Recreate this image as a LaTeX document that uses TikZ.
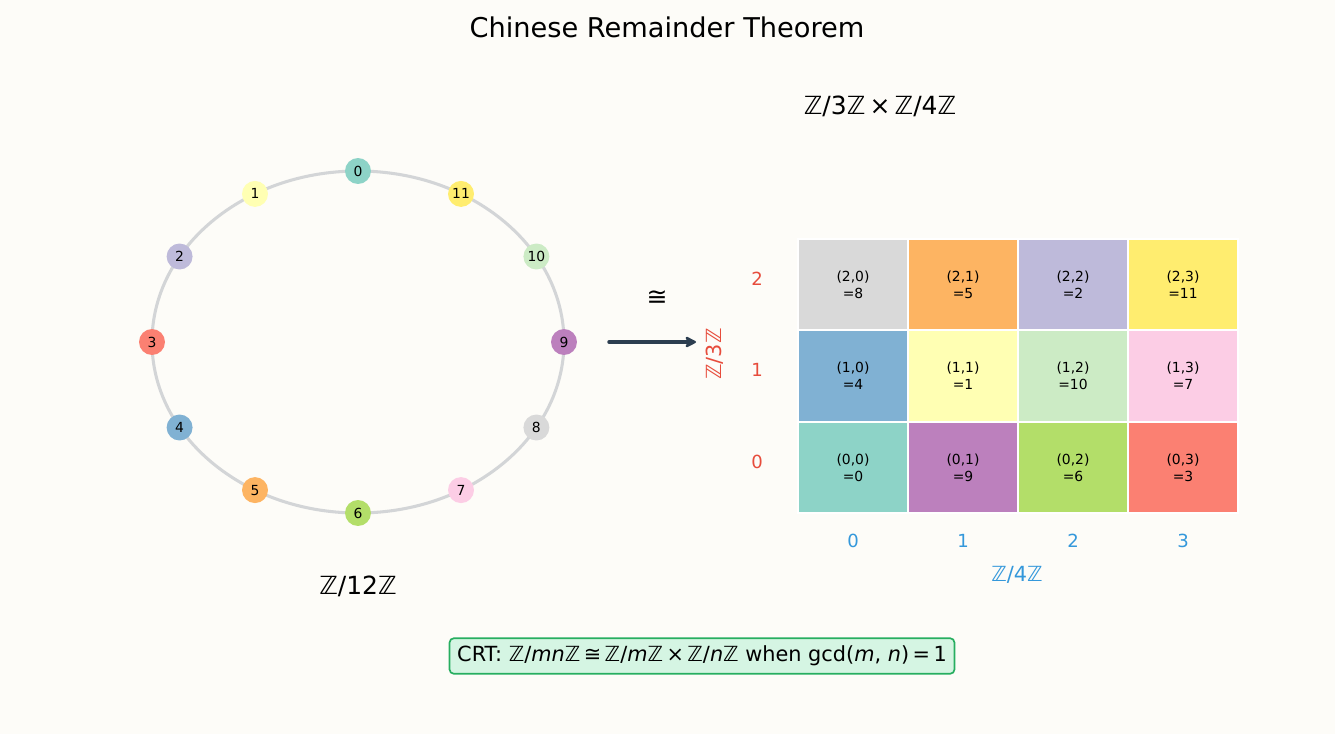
\documentclass[tikz,border=0pt]{standalone}
\usepackage{fontspec}
\setmainfont{DejaVu Sans}
\usetikzlibrary{arrows.meta}
\definecolor{bg}{HTML}{FDFCF8}
\definecolor{ring}{HTML}{D3D5D7}
\definecolor{arrowc}{HTML}{2C3E50}
\definecolor{rowc}{HTML}{E74C3C}
\definecolor{colc}{HTML}{3498DB}
\definecolor{boxfill}{HTML}{D5F5E3}
\definecolor{boxdraw}{HTML}{27AE60}
\definecolor{c0}{HTML}{8DD3C7}
\definecolor{c1}{HTML}{FFFFB3}
\definecolor{c2}{HTML}{BEBADA}
\definecolor{c3}{HTML}{FB8072}
\definecolor{c4}{HTML}{80B1D3}
\definecolor{c5}{HTML}{FDB462}
\definecolor{c6}{HTML}{B3DE69}
\definecolor{c7}{HTML}{FCCDE5}
\definecolor{c8}{HTML}{D9D9D9}
\definecolor{c9}{HTML}{BC80BD}
\definecolor{c10}{HTML}{CCEBC5}
\definecolor{c11}{HTML}{FFED6F}
\newcommand{\ZZ}{\textit{ℤ}}
\tikzset{
  vnode/.style={circle, minimum size=18.7pt, inner sep=0pt, font=\fontsize{10}{12}\selectfont},
  cell/.style={rectangle, draw=white, line width=1.5pt, minimum width=79.2pt, minimum height=65.7pt, inner sep=0pt, align=center, font=\fontsize{10}{12}\selectfont},
  rowlab/.style={text=rowc, font=\fontsize{13}{15}\selectfont},
  collab/.style={text=colc, font=\fontsize{13}{15}\selectfont},
  axlab/.style={font=\fontsize{15}{18}\selectfont},
  biglab/.style={font=\fontsize{18}{21}\selectfont},
}
\begin{document}
\begin{tikzpicture}[x=0.72pt,y=-0.72pt]
\fill[bg] (0,0) rectangle (1335,734);
\useasboundingbox (0,0) rectangle (1335,734);
% title
\node[font=\fontsize{19.6}{23}\selectfont] (title) at (667,27) {Chinese Remainder Theorem};
% ring
\draw[ring, line width=2.2pt] (358,342) ellipse [x radius=148.32pt, y radius=123.12pt];
\foreach \k in {0,...,11}{
  \node[vnode, fill=c\k] (n\k) at ({358+206*cos(90+30*\k)}, {342-171*sin(90+30*\k)}) {\k};
}
\node[biglab] (zlab) at (358,586) {\ZZ/12\ZZ};
% arrow
\coordinate (aS) at (609,342);
\coordinate (aE) at (696,342);
\draw[arrowc, line width=2.5pt, line cap=round, -{Stealth[length=10pt,width=10pt,round]}] (aS) -- (aE);
\node[font=\fontsize{18}{21}\selectfont] (iso) at (657,298) {≅};
% product label
\node[biglab] (plab) at (880,106) {\ZZ/3\ZZ\,×\,\ZZ/4\ZZ};
% grid
\foreach \a/\ry in {2/284.5,1/376,0/467.5}{
  \foreach \b/\cx in {0/853,1/963,2/1073,3/1183}{
    \pgfmathtruncatemacro{\v}{mod(16*\a+9*\b,12)}
    \node[cell, fill=c\v] (g\a\b) at (\cx,\ry) {(\a,\b)\\=\v};
  }
  \node[rowlab] (r\a) at (757,\ry-6) {\a};
}
\foreach \b/\cx in {0/853,1/963,2/1073,3/1183}{
  \node[collab] (k\b) at (\cx,541) {\b};
}
\node[axlab, text=colc] (blab) at (1017,575) {\ZZ/4\ZZ};
\node[axlab, text=rowc, rotate=90] (alab) at (715,354) {\ZZ/3\ZZ};
% CRT box
\node[draw=boxdraw, fill=boxfill, line width=1.2pt, rounded corners=3pt, inner xsep=5.5pt, inner ysep=5.5pt, font=\fontsize{15}{18}\selectfont] (crt) at (702,656)
  {CRT: \ZZ/\textit{mn}\ZZ\,≅\,\ZZ/\textit{m}\ZZ\,×\,\ZZ/\textit{n}\ZZ{} when gcd(\textit{m}, \textit{n})\,=\,1};
\end{tikzpicture}
\end{document}
